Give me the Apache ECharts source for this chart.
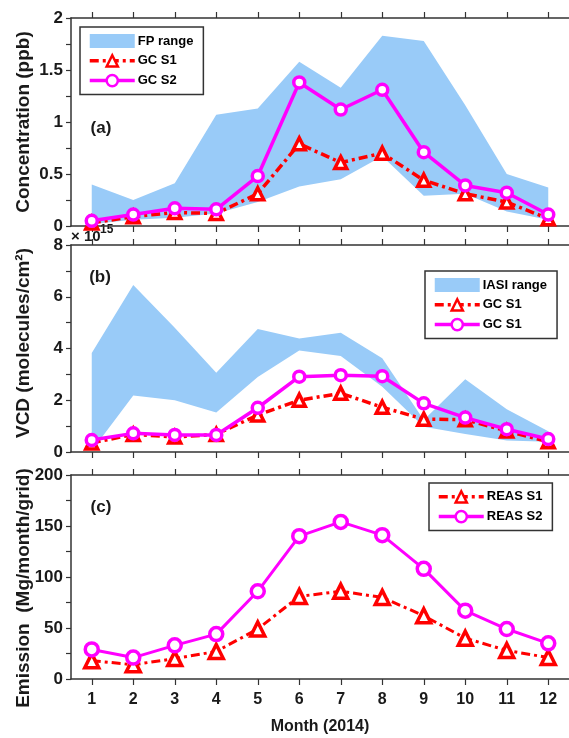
<!DOCTYPE html>
<html>
<head>
<meta charset="utf-8">
<script src="https://cdn.jsdelivr.net/npm/echarts@6/dist/echarts.min.js"></script>
<style>
html,body{margin:0;padding:0;background:#fff;}
#chart{width:569px;height:738px;}
</style>
</head>
<body>
<div id="chart"></div>
<script>
// ---------- data ----------
const months = ['1','2','3','4','5','6','7','8','9','10','11','12'];

// panel (a): concentration (ppb)
const fpLow  = [0.02, 0.06, 0.08, 0.12, 0.23, 0.38, 0.45, 0.67, 0.29, 0.31, 0.14, 0.06];
const fpHigh = [0.40, 0.25, 0.41, 1.07, 1.13, 1.58, 1.33, 1.83, 1.78, 1.16, 0.50, 0.37];
const gcS1a  = [0.03, 0.09, 0.13, 0.12, 0.31, 0.79, 0.61, 0.70, 0.44, 0.31, 0.23, 0.07];
const gcS2a  = [0.05, 0.11, 0.17, 0.16, 0.48, 1.38, 1.12, 1.31, 0.71, 0.39, 0.32, 0.11];

// panel (b): VCD (x1e15 molecules/cm2)
const iasiLow  = [0.05, 2.18, 2.00, 1.53, 2.90, 3.92, 3.71, 2.52, 0.98, 0.70, 0.44, 0.40];
const iasiHigh = [3.83, 6.45, 4.80, 3.06, 4.75, 4.39, 4.61, 3.62, 1.24, 2.81, 1.65, 0.80];
const gcS1b    = [0.35, 0.68, 0.58, 0.68, 1.43, 2.00, 2.27, 1.73, 1.27, 1.25, 0.81, 0.40];
const gcS2b    = [0.46, 0.72, 0.66, 0.66, 1.71, 2.91, 2.97, 2.93, 1.88, 1.33, 0.88, 0.50];

// panel (c): emission (Mg/month/grid)
const reasS1 = [18, 14, 20, 27, 49, 81, 86, 80, 62, 40, 28, 21];
const reasS2 = [29, 21, 33, 44, 86, 140, 154, 141, 108, 67, 49, 35];

// tick / label texts
const yTicksA = [0, 0.5, 1, 1.5, 2];
const yTicksB = [0, 2, 4, 6, 8];
const yTicksC = [0, 50, 100, 150, 200];
const legendNames = {
  a_FP: 'FP range', a_S1: 'GC S1', a_S2: 'GC S2',
  b_IASI: 'IASI range', b_S1: 'GC S1', b_S2: 'GC S1',
  c_S1: 'REAS S1', c_S2: 'REAS S2'
};

// ---------- style ----------
const FONT = "'Liberation Sans', Arial, sans-serif";
const AXC = '#333';
const TXT = '#1a1a1a';
const BAND = '#99CBF8';
const RED = '#ff0000';
const MAG = '#ff00ff';
const DASH = [9, 4, 3, 4];

const chart = echarts.init(document.getElementById('chart'), null, {renderer: 'canvas'});

const grids = [
  {left: 71, top: 18, width: 503, height: 208},
  {left: 71, top: 245, width: 503, height: 207},
  {left: 71, top: 475, width: 503, height: 204}
];

function xAxes(gi, showLabels) {
  const common = {
    type: 'category', data: months, gridIndex: gi, boundaryGap: true,
    axisLine: {show: true, lineStyle: {color: AXC, width: 1.5}},
    axisTick: {show: true, alignWithLabel: true, inside: false, length: 6, lineStyle: {color: AXC, width: 1.2}},
    splitLine: {show: false}
  };
  const bottom = Object.assign({}, common, {
    position: 'bottom',
    axisLabel: {show: showLabels, fontFamily: FONT, fontWeight: 'bold', fontSize: 16, color: TXT, margin: 13}
  });
  if (showLabels) {
    Object.assign(bottom, {
      name: 'Month (2014)', nameLocation: 'middle', nameGap: 40,
      nameTextStyle: {fontFamily: FONT, fontWeight: 'bold', fontSize: 16, color: TXT}
    });
  }
  const top = Object.assign({}, common, {position: 'top', axisLabel: {show: false}});
  return [bottom, top];
}

function yAxis(gi, max, interval, labels) {
  return {
    type: 'value', gridIndex: gi, min: 0, max: max, interval: interval, position: 'left',
    axisLine: {show: true, lineStyle: {color: AXC, width: 1.5}},
    axisTick: {show: true, inside: false, length: 5, lineStyle: {color: AXC, width: 1.2}},
    splitLine: {show: false},
    axisLabel: {
      fontFamily: FONT, fontWeight: 'bold', fontSize: 17, color: TXT, margin: 8,
      formatter: function (v) {
        for (const t of labels) { if (Math.abs(t - v) < 1e-9) return String(t); }
        return '';
      }
    }
  };
}

function bandSeries(name, xi, yi, low, high) {
  return {
    name: name, type: 'custom', xAxisIndex: xi, yAxisIndex: yi, z: 1,
    itemStyle: {color: BAND},
    data: months.map((m, i) => [i, low[i], high[i]]),
    encode: {x: 0, y: [1, 2]},
    renderItem: function (params, api) {
      if (params.dataIndex !== 0) return null;
      const pts = [];
      for (let i = 0; i < months.length; i++) pts.push(api.coord([i, high[i]]));
      for (let i = months.length - 1; i >= 0; i--) pts.push(api.coord([i, low[i]]));
      return {type: 'polygon', shape: {points: pts}, style: {fill: BAND}};
    },
    silent: true
  };
}

function s1Series(name, xi, yi, data, size, lw) {
  return {
    name: name, type: 'line', xAxisIndex: xi, yAxisIndex: yi, data: data, z: 3,
    symbol: 'triangle', symbolSize: size,
    lineStyle: {color: RED, width: lw, type: DASH},
    itemStyle: {color: '#fff', borderColor: RED, borderWidth: 3.5},
    animation: false
  };
}

function s2Series(name, xi, yi, data, size, lw) {
  return {
    name: name, type: 'line', xAxisIndex: xi, yAxisIndex: yi, data: data, z: 4,
    symbol: 'circle', symbolSize: size,
    lineStyle: {color: MAG, width: lw, type: 'solid'},
    itemStyle: {color: '#fff', borderColor: MAG, borderWidth: 3.5},
    animation: false
  };
}

function legS1(name) {
  return {name: name, lineStyle: {width: 3.5, type: DASH, color: RED}, itemStyle: {color: '#fff', borderColor: RED, borderWidth: 2.5}};
}
function legS2(name) {
  return {name: name, lineStyle: {width: 3.5, type: 'solid', color: MAG}, itemStyle: {color: '#fff', borderColor: MAG, borderWidth: 2.5}};
}

function legend(data, left, top) {
  return {
    show: true, orient: 'vertical', left: left, top: top,
    data: data,
    itemWidth: 45, itemHeight: 14, itemGap: 6,
    padding: [7, 10, 7, 8],
    borderColor: AXC, borderWidth: 1.5, backgroundColor: '#fff',
    textStyle: {fontFamily: FONT, fontWeight: 'bold', fontSize: 13, color: '#000', padding: [0, 0, 0, -2]},
    formatter: function (n) { return legendNames[n]; },
    selectedMode: false
  };
}

function gtext(text, x, y, size, rot, extra) {
  return Object.assign({
    type: 'text', x: x, y: y, rotation: rot || 0,
    style: {text: text, fontFamily: FONT, fontWeight: 'bold', fontSize: size, fill: TXT,
            align: 'center', verticalAlign: 'middle'}
  }, extra || {});
}

const option = {
  animation: false,
  backgroundColor: '#fff',
  grid: grids,
  xAxis: [].concat(xAxes(0, false), xAxes(1, false), xAxes(2, true)),
  yAxis: [yAxis(0, 2, 0.25, yTicksA), yAxis(1, 8, 1, yTicksB), yAxis(2, 200, 25, yTicksC)],
  legend: [
    legend([{name: 'a_FP', icon: 'rect', itemStyle: {color: BAND}}, legS1('a_S1'), legS2('a_S2')], 80, 27),
    legend([{name: 'b_IASI', icon: 'rect', itemStyle: {color: BAND}}, legS1('b_S1'), legS2('b_S2')], 425, 271),
    legend([legS1('c_S1'), legS2('c_S2')], 429, 483)
  ],
  series: [
    bandSeries('a_FP', 0, 0, fpLow, fpHigh),
    s1Series('a_S1', 0, 0, gcS1a, 12, 3.5),
    s2Series('a_S2', 0, 0, gcS2a, 11, 3.5),
    bandSeries('b_IASI', 2, 1, iasiLow, iasiHigh),
    s1Series('b_S1', 2, 1, gcS1b, 12, 3.5),
    s2Series('b_S2', 2, 1, gcS2b, 11, 3.5),
    s1Series('c_S1', 4, 2, reasS1, 14, 3),
    s2Series('c_S2', 4, 2, reasS2, 13, 3)
  ],
  graphic: [
    gtext('Concentration (ppb)', 24, 122, 19, Math.PI / 2),
    gtext('VCD (molecules/cm²)', 24, 343, 19, Math.PI / 2),
    gtext('Emission  (Mg/month/grid)', 24, 588, 19, Math.PI / 2),
    gtext('(a)', 101, 128, 17, 0),
    gtext('(b)', 100, 277, 17, 0),
    gtext('(c)', 101, 507, 17, 0),
    {type: 'text', x: 71, y: 237, style: {text: '× 10', fontFamily: FONT, fontWeight: 'bold', fontSize: 15, fill: TXT, align: 'left', verticalAlign: 'middle'}},
    {type: 'text', x: 100, y: 230, style: {text: '15', fontFamily: FONT, fontWeight: 'bold', fontSize: 12, fill: TXT, align: 'left', verticalAlign: 'middle'}}
  ]
};

chart.setOption(option);
</script>
</body>
</html>
